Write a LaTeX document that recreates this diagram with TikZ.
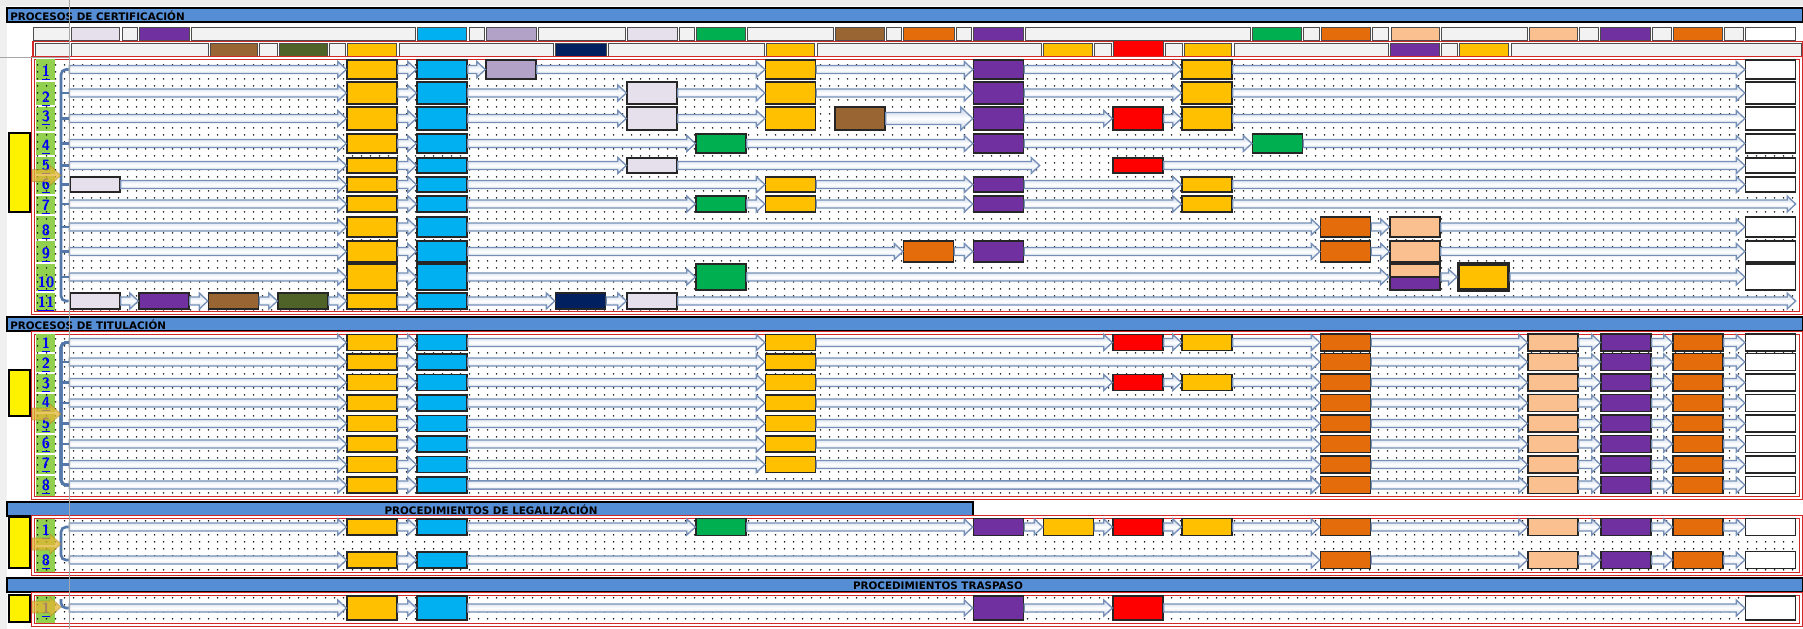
\documentclass[tikz,border=0pt]{standalone}
\usepackage{fontspec}
\newfontfamily\titlefont{DejaVu Sans}
\usetikzlibrary{calc, fit, patterns.meta}
\definecolor{barblue}{RGB}{85,142,213}
\definecolor{boxyellow}{RGB}{255,192,0}
\definecolor{boxcyan}{RGB}{0,176,240}
\definecolor{boxpurple}{RGB}{112,48,160}
\definecolor{boxgreen}{RGB}{0,176,80}
\definecolor{boxbrown}{RGB}{153,102,51}
\definecolor{boxolive}{RGB}{79,98,40}
\definecolor{boxnavy}{RGB}{0,32,96}
\definecolor{boxorange}{RGB}{228,108,10}
\definecolor{boxpeach}{RGB}{250,192,144}
\definecolor{boxlilac}{RGB}{179,162,199}
\definecolor{boxgrey}{RGB}{230,224,236}
\definecolor{boxred}{RGB}{255,0,0}
\definecolor{numgreen}{RGB}{146,208,80}
\definecolor{flowline}{RGB}{118,143,182}
\definecolor{flowshade}{RGB}{196,210,230}
\definecolor{bracketblue}{RGB}{84,120,170}
\definecolor{arrowgold}{RGB}{225,180,50}
\definecolor{blankcell}{RGB}{242,242,242}
\definecolor{panelred}{RGB}{210,40,40}
\tikzdeclarepattern{
  name=celldots, type=uncolored,
  bottom left={(0pt,0pt)}, top right={(5pt,4pt)}, tile size={(5pt,4pt)},
  code={\fill (1.5pt,2pt) circle (0.5pt);}
}
\tikzset{
  box/.style={draw=black!85, line width=0.8pt, fill=#1, minimum width=1cm, inner sep=0pt},
  ht/.style={minimum height=#1*0.02cm},
  start/.style={inner sep=0pt, minimum size=0pt},
  flow/.style={draw=flowline, top color=flowshade, bottom color=flowshade, middle color=white,
    line width=0.75pt, line join=miter},
  flow body/.store in=\flowbody, flow head/.store in=\flowhead, flow tip/.store in=\flowtip,
  flow body=0.08cm, flow head=0.16cm, flow tip=0.17cm,
  big/.style={flow body=0.12cm, flow head=0.23cm, flow tip=0.24cm},
  bracket/.style={draw=bracketblue, line width=1.5pt, rounded corners=0.1cm},
  legend/.style={draw=black!70, line width=0.5pt},
  titlebar/.style={fill=barblue, draw=black, line width=1.2pt},
  bartitle/.style={inner sep=0pt, font=\titlefont\bfseries\fontsize{5.9}{6}\selectfont},
  panel/.style={draw=panelred, double=white, double distance=0.8pt, line width=0.6pt},
  leftblock/.style={fill=yellow, draw=black, line width=1.2pt},
  goldarrow/.style={fill=arrowgold, fill opacity=0.75, draw=arrowgold!70!black, draw opacity=0.5},
  rownum/.style={inner sep=0pt, text=blue, font=\sffamily\bfseries\fontsize{8.5}{8.5}\selectfont},
}
% block arrow from one anchor to another
\newcommand{\flowarrow}[3][]{%
  \path[flow,#1] let \p1=#2, \p2=#3 in
    (\x1,\y1+\flowbody) -- (\x2-\flowtip,\y1+\flowbody) -- (\x2-\flowtip,\y1+\flowhead)
    -- (\x2,\y1) -- (\x2-\flowtip,\y1-\flowhead) -- (\x2-\flowtip,\y1-\flowbody)
    -- (\x1,\y1-\flowbody) -- cycle;}
\newcommand{\flowchain}[1]{%
  \foreach \cur [count=\k, remember=\cur as \prev] in {#1}{%
    \ifnum\k>1 \flowarrow{(\prev.east)}{(\cur.west)}\fi}}

\begin{document}
\begin{tikzpicture}[x=0.02cm, y=-0.02cm]
\useasboundingbox (0,0) rectangle (1803,629);
\fill[white] (0,0) rectangle (1803,629);
\fill[gray!15] (0,0) rectangle (1803,6);
\fill[gray!12] (0,6) rectangle (7,629);

% title bars
\draw[titlebar] (7,8) rectangle (1803,22);
\draw[titlebar] (7,317) rectangle (1803,331);
\draw[titlebar] (7,502) rectangle (973,516);
\draw[titlebar] (7,578) rectangle (1803,592);
\node[bartitle, anchor=west] (certtitle) at (10,15.5) {PROCESOS DE CERTIFICACIÓN};
\node[bartitle, anchor=west] (tittitle) at (10,324.5) {PROCESOS DE TITULACIÓN};
\node[bartitle] (legtitle) at (491,509.5) {PROCEDIMIENTOS DE LEGALIZACIÓN};
\node[bartitle] (trastitle) at (938,585.5) {PROCEDIMIENTOS TRASPASO};

% column headers
\foreach \xa/\xb/\c in {33/69/blankcell, 71/119/boxgrey, 122/137/blankcell, 139/189/boxpurple,
    191/415/blankcell, 417/466/boxcyan, 469/484/blankcell, 486/536/boxlilac, 538/625/blankcell,
    627/677/boxgrey, 679/694/blankcell, 696/745/boxgreen, 747/833/blankcell, 835/884/boxbrown,
    886/901/blankcell, 903/954/boxorange, 956/971/blankcell, 973/1023/boxpurple,
    1025/1250/blankcell, 1252/1301/boxgreen, 1303/1319/blankcell, 1321/1370/boxorange,
    1372/1388/blankcell, 1391/1439/boxpeach, 1441/1527/blankcell, 1529/1577/boxpeach,
    1579/1598/blankcell, 1600/1650/boxpurple, 1652/1671/blankcell, 1673/1722/boxorange,
    1724/1743/blankcell, 1745/1795/white}
  \draw[legend, fill=\c] (\xa,27.5) rectangle (\xb,40);
\draw[draw=panelred, line width=1pt] (33,41.5) rectangle (1803,57);
\foreach \xa/\xb/\c in {35/69/blankcell, 71/208/blankcell, 210/257/boxbrown, 259/277/blankcell,
    279/327/boxolive, 329/345/blankcell, 347/396/boxyellow, 399/553/blankcell, 555/606/boxnavy,
    608/764/blankcell, 766/814/boxyellow, 817/1041/blankcell, 1043/1092/boxyellow,
    1094/1111/blankcell, 1165/1182/blankcell, 1184/1231/boxyellow,
    1234/1388/blankcell, 1390/1439/boxpurple, 1441/1457/blankcell, 1459/1508/boxyellow,
    1511/1801/blankcell}
  \draw[legend, fill=\c] (\xa,43) rectangle (\xb,56);
\draw[legend, fill=boxred] (1113,40) rectangle (1163,57);

% panels
\foreach \ya/\yb in {58/313, 333/498, 517/574, 594/625}
  \draw[panel] (33,\ya) rectangle (1801,\yb);
\foreach \ya/\yb in {59/80, 82/105, 107/131, 133/155, 157/174, 176/194, 196/214, 216/239,
    241/262, 264/291, 293/311, 334/352, 354/372, 374/392, 394/412, 414/433, 435/453, 455/474,
    476/496, 519/545, 547/572, 596/623}
  \fill[numgreen] (36,\ya) rectangle (55,\yb);
\foreach \ya/\yb in {60/311, 335/496, 519/572, 596/623}
  \fill[pattern=celldots] (35,\ya) rectangle (1799,\yb);

% left tags
\foreach \ya/\yb in {133/212, 370/416, 517/568, 595/622}
  \draw[leftblock] (9,\ya) rectangle (30,\yb);

\coordinate (brk) at (61,0);

% ---------------- certificacion ----------------
\foreach \r/\y/\h in {1/69.5/19, 2/93/22, 3/118.5/23, 4/143.5/19, 5/165.5/15, 6/184.5/15,
    7/204/16, 8/227/20, 9/251.5/21, 10/277/26, 11/301/16} {
  \node[start] (cst\r) at (69,\y) {};
  \node[box=boxyellow, ht=\h] (cya\r) at (372,\y) {};
  \node[box=boxcyan, ht=\h] (ccy\r) at (442,\y) {};
}
\node[box=boxlilac, ht=19] (cli1) at (511,69.5) {};
\node[box=boxyellow, ht=19] (cyb1) at (790.5,69.5) {};
\node[box=boxpurple, ht=19] (cpu1) at (998.5,69.5) {};
\node[box=boxyellow, ht=19] (cyc1) at (1207,69.5) {};
\node[box=white, ht=19] (cwh1) at (1770.5,69.5) {};

\node[box=boxgrey, ht=22] (cgr2) at (652,93) {};
\node[box=boxyellow, ht=22] (cyb2) at (790.5,93) {};
\node[box=boxpurple, ht=22] (cpu2) at (998.5,93) {};
\node[box=boxyellow, ht=22] (cyc2) at (1207,93) {};
\node[box=white, ht=22] (cwh2) at (1770.5,93) {};

\node[box=boxgrey, ht=23] (cgr3) at (652,118.5) {};
\node[box=boxyellow, ht=23] (cyb3) at (790.5,118.5) {};
\node[box=boxbrown, ht=23] (cbu3) at (860,118.5) {};
\node[box=boxpurple, ht=23] (cpu3) at (998.5,118.5) {};
\node[box=boxred, ht=23] (cre3) at (1138,118.5) {};
\node[box=boxyellow, ht=23] (cyc3) at (1207,118.5) {};
\node[box=white, ht=23] (cwh3) at (1770.5,118.5) {};

\node[box=boxgreen, ht=19] (cga4) at (721,143.5) {};
\node[box=boxpurple, ht=19] (cpu4) at (998.5,143.5) {};
\node[box=boxgreen, ht=19] (cgb4) at (1277.5,143.5) {};
\node[box=white, ht=19] (cwh4) at (1770.5,143.5) {};

\node[box=boxgrey, ht=15] (cgr5) at (652,165.5) {};
\node[start] (cen5) at (1040,165.5) {};
\node[box=boxred, ht=15] (cre5) at (1138,165.5) {};
\node[box=white, ht=15] (cwh5) at (1770.5,165.5) {};

\node[box=boxgrey, ht=15] (cgi6) at (95,184.5) {};
\node[box=boxyellow, ht=15] (cyb6) at (790.5,184.5) {};
\node[box=boxpurple, ht=15] (cpu6) at (998.5,184.5) {};
\node[box=boxyellow, ht=15] (cyc6) at (1207,184.5) {};
\node[box=white, ht=15] (cwh6) at (1770.5,184.5) {};

\node[box=boxgreen, ht=16] (cga7) at (721,204) {};
\node[box=boxyellow, ht=16] (cyb7) at (790.5,204) {};
\node[box=boxpurple, ht=16] (cpu7) at (998.5,204) {};
\node[box=boxyellow, ht=16] (cyc7) at (1207,204) {};
\node[start] (cen7) at (1796,204) {};

\node[box=boxorange, ht=20] (cob8) at (1345.5,227) {};
\node[box=boxpeach, ht=20] (cea8) at (1415,227) {};
\node[box=white, ht=20] (cwh8) at (1770.5,227) {};

\node[box=boxorange, ht=21] (coa9) at (928.5,251.5) {};
\node[box=boxpurple, ht=21] (cpu9) at (998.5,251.5) {};
\node[box=boxorange, ht=21] (cob9) at (1345.5,251.5) {};
\node[box=boxpeach, ht=21] (cea9) at (1415,251.5) {};
\node[box=white, ht=21] (cwh9) at (1770.5,251.5) {};

\node[box=boxgreen, ht=26] (cga10) at (721,277) {};
\node[box=boxpeach, ht=13] (cea10) at (1415,270.5) {};
\node[box=boxpurple, ht=13] (cpx10) at (1415,283.5) {};
\node[fit=(cea10)(cpx10), inner sep=0pt] (cstk10) {};
\node[box=boxyellow, ht=26, line width=1.8pt] (cyz10) at (1483.5,277) {};
\node[box=white, ht=26] (cwh10) at (1770.5,277) {};

\node[box=boxgrey, ht=16] (cgi11) at (95,301) {};
\node[box=boxpurple, ht=16] (cpv11) at (164,301) {};
\node[box=boxbrown, ht=16] (cbv11) at (233.5,301) {};
\node[box=boxolive, ht=16] (col11) at (303,301) {};
\node[box=boxnavy, ht=16] (cna11) at (580.5,301) {};
\node[box=boxgrey, ht=16] (cgr11) at (652,301) {};
\node[start] (cen11) at (1796,301) {};

\flowchain{cst1,cya1,ccy1,cli1,cyb1,cpu1,cyc1,cwh1}
\flowchain{cst2,cya2,ccy2,cgr2,cyb2,cpu2,cyc2,cwh2}
\flowchain{cst3,cya3,ccy3,cgr3,cyb3}
\flowarrow[big]{(cbu3.east)}{(cpu3.west)}
\flowchain{cpu3,cre3,cyc3,cwh3}
\flowchain{cst4,cya4,ccy4,cga4,cpu4,cgb4,cwh4}
\flowchain{cst5,cya5,ccy5,cgr5,cen5}
\flowchain{cre5,cwh5}
\flowchain{cgi6,cya6,ccy6,cyb6,cpu6,cyc6,cwh6}
\flowchain{cst7,cya7,ccy7,cga7,cyb7,cpu7,cyc7,cen7}
\flowchain{cst8,cya8,ccy8,cob8,cea8,cwh8}
\flowchain{cst9,cya9,ccy9,coa9,cpu9,cob9,cea9,cwh9}
\flowchain{cst10,cya10,ccy10,cga10,cstk10,cyz10,cwh10}
\flowchain{cgi11,cpv11,cbv11,col11,cya11,ccy11,cna11,cgr11,cen11}

\draw[bracket] (cst1) -| (cst11 -| brk) -- (cst11);
\foreach \r in {2,...,10}
  \draw[bracket] (cst\r -| brk) -- (cst\r);

% ---------------- titulacion ----------------
\foreach \r/\y in {1/342.5, 2/362, 3/382.5, 4/403, 5/423.5, 6/444, 7/464.5, 8/485} {
  \node[start] (tst\r) at (69,\y) {};
  \node[box=boxyellow, ht=16] (tya\r) at (372,\y) {};
  \node[box=boxcyan, ht=16] (tcy\r) at (442,\y) {};
  \node[box=boxorange, ht=17] (tob\r) at (1345.5,\y) {};
  \node[box=boxpeach, ht=17] (teb\r) at (1553,\y) {};
  \node[box=boxpurple, ht=17] (tpw\r) at (1626,\y) {};
  \node[box=boxorange, ht=17] (toc\r) at (1698,\y) {};
  \node[box=white, ht=17] (twh\r) at (1770.5,\y) {};
  \flowchain{tst\r,tya\r,tcy\r}
  \flowchain{tob\r,teb\r,tpw\r,toc\r,twh\r}
}
\foreach \r/\y in {1/342.5, 2/362, 3/382.5, 4/403, 5/423.5, 6/444, 7/464.5} {
  \node[box=boxyellow, ht=16] (tyb\r) at (790.5,\y) {};
  \flowchain{tcy\r,tyb\r}
}
\foreach \r/\y in {1/342.5, 3/382.5} {
  \node[box=boxred, ht=16] (tre\r) at (1138,\y) {};
  \node[box=boxyellow, ht=16] (tyc\r) at (1207,\y) {};
  \flowchain{tyb\r,tre\r,tyc\r,tob\r}
}
\foreach \r in {2,4,5,6,7}
  \flowchain{tyb\r,tob\r}
\flowchain{tcy8,tob8}
\draw[bracket] (tst1) -| (tst8 -| brk) -- (tst8);
\foreach \r in {2,...,7}
  \draw[bracket] (tst\r -| brk) -- (tst\r);

% ---------------- legalizacion ----------------
\foreach \r/\y in {1/527, 2/560} {
  \node[start] (lst\r) at (69,\y) {};
  \node[box=boxyellow, ht=16] (lya\r) at (372,\y) {};
  \node[box=boxcyan, ht=16] (lcy\r) at (442,\y) {};
  \node[box=boxorange, ht=17] (lob\r) at (1345.5,\y) {};
  \node[box=boxpeach, ht=17] (leb\r) at (1553,\y) {};
  \node[box=boxpurple, ht=17] (lpw\r) at (1626,\y) {};
  \node[box=boxorange, ht=17] (loc\r) at (1698,\y) {};
  \node[box=white, ht=17] (lwh\r) at (1770.5,\y) {};
  \flowchain{lst\r,lya\r,lcy\r}
  \flowchain{lob\r,leb\r,lpw\r,loc\r,lwh\r}
}
\node[box=boxgreen, ht=17] (lga1) at (721,527) {};
\node[box=boxpurple, ht=17] (lpu1) at (998.5,527) {};
\node[box=boxyellow, ht=17] (lyx1) at (1068.5,527) {};
\node[box=boxred, ht=17] (lre1) at (1138,527) {};
\node[box=boxyellow, ht=17] (lyc1) at (1207,527) {};
\flowchain{lcy1,lga1,lpu1,lyx1,lre1,lyc1,lob1}
\flowchain{lcy2,lob2}
\draw[bracket] (lst1) -| (lst2 -| brk) -- (lst2);

% ---------------- traspaso ----------------
\node[start] (pst1) at (69,608) {};
\node[box=boxyellow, ht=24] (pya1) at (372,608) {};
\node[box=boxcyan, ht=24] (pcy1) at (442,608) {};
\node[box=boxpurple, ht=24] (ppu1) at (998.5,608) {};
\node[box=boxred, ht=24] (pre1) at (1138,608) {};
\node[box=white, ht=24] (pwh1) at (1770.5,608) {};
\flowchain{pst1,pya1,pcy1,ppu1,pre1,pwh1}
\draw[bracket] (pst1 -| brk) ++(0,-9) -- (pst1 -| brk) -- (pst1);

% row numbers
\foreach \y [count=\i] in {73,99,118,147,167,186,207,232,255,284,304}
  \node[rownum] (cn\i) at (46,\y) {\underline{\i}};
\foreach \y [count=\i] in {345,365,385,404,425,445,465,487}
  \node[rownum] (tn\i) at (46,\y) {\underline{\i}};
\node[rownum] (ln1) at (46,532) {\underline{1}};
\node[rownum] (ln2) at (46,562) {\underline{8}};
\node[rownum] (pn1) at (46,610) {\underline{1}};

% gold pointers
\foreach \y in {175.5, 414, 544, 607}
  \path[goldarrow] (32,\y-6) -- (50,\y-6) -- (50,\y-10) -- (61,\y) -- (50,\y+10) -- (50,\y+6) -- (32,\y+6) -- cycle;

% frozen pane lines
\draw[gray!70, line width=0.6pt] (69.5,0) -- (69.5,629);
\draw[gray!70, line width=0.6pt] (0,57.5) -- (69.5,57.5);
\end{tikzpicture}
\end{document}
